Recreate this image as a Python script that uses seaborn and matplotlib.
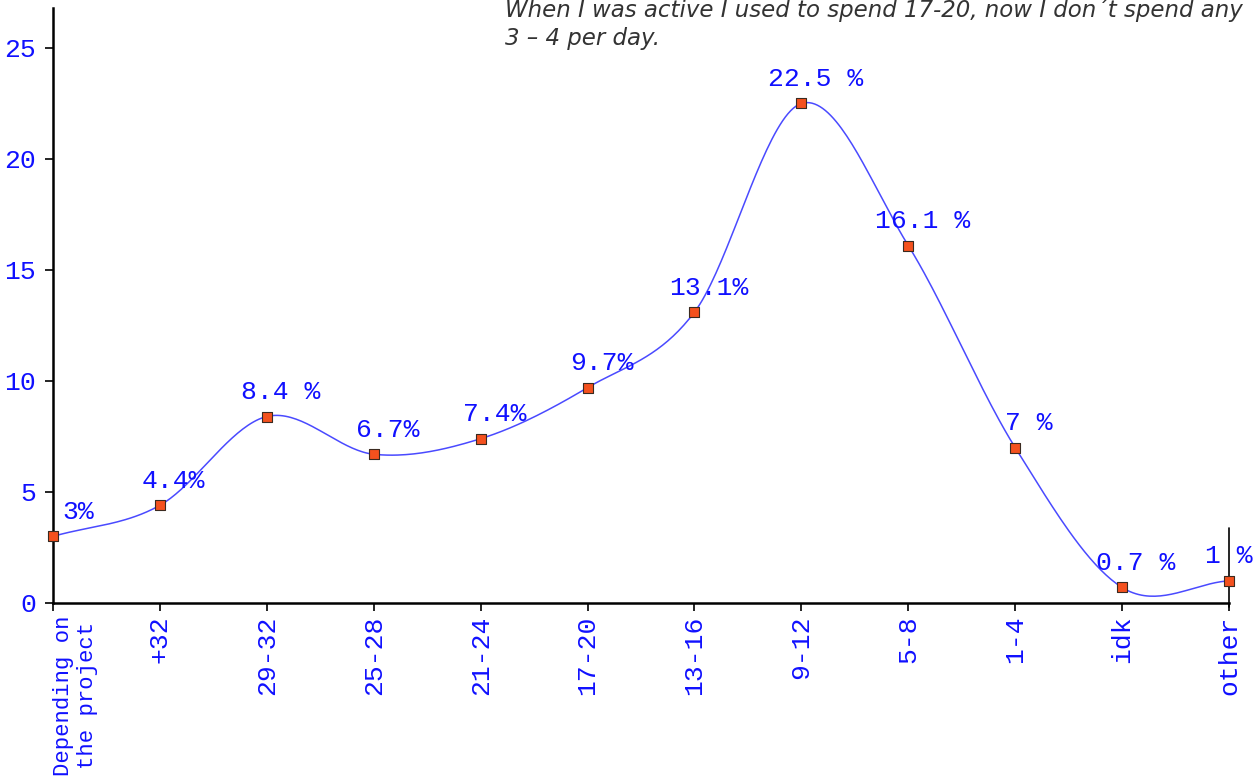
import numpy as np
import pandas as pd
import matplotlib
matplotlib.use("Agg")
import matplotlib.pyplot as plt
import seaborn as sns

categories = ["Depending on\nthe project", "+32", "29-32", "25-28", "21-24", "17-20",
              "13-16", "9-12", "5-8", "1-4", "idk", "other"]
values = [3, 4.4, 8.4, 6.7, 7.4, 9.7, 13.1, 22.5, 16.1, 7, 0.7, 1]
value_labels = ["3%", "4.4%", "8.4 %", "6.7%", "7.4%", "9.7%", "13.1%", "22.5 %",
                "16.1 %", "7 %", "0.7 %", "1 %"]
yticks = [0, 5, 10, 15, 20, 25]
note_lines = ["When I was active I used to spend 17-20, now I don´t spend any",
              "3 – 4 per day."]

sns.set_style("white")
plt.rcParams["font.family"] = ["Liberation Mono", "DejaVu Sans Mono"]

BLUE = "#1010ff"

fig = plt.figure(figsize=(12.53, 7.81), dpi=100)
ax = fig.add_axes([53 / 1253, 178 / 781, (1229 - 53) / 1253, (603 - 8) / 781])

x = np.arange(len(values), dtype=float)
y = np.array(values, dtype=float)

# Catmull-Rom smoothing of the line through the points
xs, ys = [], []
n = len(y)
for i in range(n - 1):
    p0 = y[i - 1] if i > 0 else y[i]
    p1, p2 = y[i], y[i + 1]
    p3 = y[i + 2] if i + 2 < n else y[i + 1]
    m1 = (p2 - p0) / (2 if i > 0 else 1)
    m2 = (p3 - p1) / (2 if i + 2 < n else 1)
    t = np.linspace(0, 1, 40, endpoint=(i == n - 2))
    h00 = 2 * t**3 - 3 * t**2 + 1
    h10 = t**3 - 2 * t**2 + t
    h01 = -2 * t**3 + 3 * t**2
    h11 = t**3 - t**2
    xs.append(x[i] + t)
    ys.append(h00 * p1 + h10 * m1 + h01 * p2 + h11 * m2)
curve = pd.DataFrame({"x": np.concatenate(xs), "y": np.concatenate(ys)})
pts = pd.DataFrame({"x": x, "y": y})

sns.lineplot(data=curve, x="x", y="y", ax=ax, color="#4a4aff", linewidth=1.1,
             sort=False, estimator=None, zorder=2)
sns.scatterplot(data=pts, x="x", y="y", ax=ax, marker="s", s=60,
                color="#f4511e", edgecolor="#3a2a20", linewidth=0.8, zorder=3, clip_on=False)

for i, (xi, yi, lab) in enumerate(zip(x, y, value_labels)):
    dx = 0 if i == n - 1 else (18 if i == 0 else 10)
    ax.annotate(lab, (xi, yi), xytext=(dx, 9), textcoords="offset points",
                ha="center", va="bottom", color=BLUE, fontsize=19, zorder=4)

ax.set_xlim(0, n - 1)
ax.set_ylim(0, 26.8)
ax.set_xticks(x)
ax.set_xticklabels(categories, rotation=90, color=BLUE, fontsize=19,
                   va="top", ha="center", multialignment="center")
first = ax.get_xticklabels()[0]
first.set_fontsize(16)
first.set_ha("left")
ax.set_yticks(yticks)
ax.set_yticklabels([str(v) for v in yticks], color=BLUE, fontsize=19)
ax.set_xlabel("")
ax.set_ylabel("")
ax.tick_params(axis="both", direction="out", length=6, width=1.2, color="black",
               bottom=True, left=True)
ax.tick_params(axis="x", pad=3)
ax.tick_params(axis="y", pad=6)
for s in ["top", "right"]:
    ax.spines[s].set_visible(False)
for s in ["left", "bottom"]:
    ax.spines[s].set_color("black")
    ax.spines[s].set_linewidth(1.8)
ax.plot([n - 1, n - 1], [-0.2, 3.4], color="black", linewidth=1.2, clip_on=False, zorder=1)

for k, line in enumerate(note_lines):
    fig.text(505 / 1253, 1 - (17 + 28 * k) / 781, line, fontsize=16.5, style="italic",
             family=["DejaVu Sans"], color="#333333", ha="left", va="baseline")

fig.savefig("out.png", dpi=100)
